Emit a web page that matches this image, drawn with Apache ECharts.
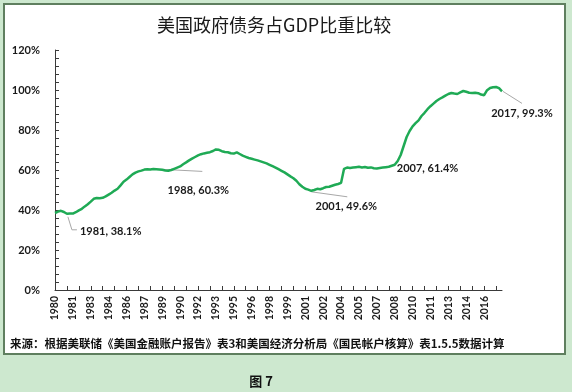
<!DOCTYPE html>
<html><head><meta charset="utf-8">
<script src="https://cdn.jsdelivr.net/npm/echarts@6/dist/echarts.min.js"></script>
<style>html,body{margin:0;padding:0;background:#cde8cf;} #c{width:572px;height:392px;}</style>
</head><body><div id="c"></div>
<script>
const titleText = '美国政府债务占GDP比重比较';
const sourceText = '来源：根据美联储《美国金融账户报告》表3和美国经济分析局《国民帐户核算》表1.5.5数据计算';
const figureText = '图 7';

// quarterly categories 1980Q1 .. 2017Q3
const years = [];
for (let y = 1980; y <= 2017; y++) years.push(y);
const categories = [];
years.forEach(y => { for (let q = 1; q <= 4; q++) { if (y === 2017 && q > 3) break; categories.push(y + 'Q' + q); } });

// US government debt / GDP (%)
const debtRatio = [
  38.5, 39.2, 39.6, 39.0, 38.1, 38.3, 38.2, 38.9, 39.8, 40.6,
  41.8, 42.9, 44.2, 45.6, 46.0, 45.9, 46.1, 46.8, 47.7, 48.6,
  49.7, 50.6, 52.3, 54.1, 55.2, 56.5, 57.8, 58.7, 59.3, 59.7,
  60.2, 60.4, 60.3, 60.5, 60.4, 60.3, 60.1, 59.8, 59.6, 60.0,
  60.6, 61.2, 61.8, 62.9, 63.8, 64.8, 65.7, 66.5, 67.3, 67.9,
  68.3, 68.6, 68.9, 69.5, 70.3, 70.1, 69.4, 69.0, 68.9, 68.4,
  68.2, 68.8, 68.0, 67.2, 66.6, 66.0, 65.6, 65.2, 64.8, 64.3,
  63.8, 63.3, 62.6, 61.9, 61.2, 60.4, 59.6, 58.8, 57.8, 56.8,
  55.9, 54.6, 52.9, 51.6, 50.6, 50.2, 49.6, 50.0, 50.6, 50.4,
  50.9, 51.5, 51.6, 52.1, 52.6, 53.0, 53.6, 60.6, 61.2, 61.0,
  61.2, 61.4, 61.6, 61.3, 61.5, 61.1, 61.3, 60.9, 60.8, 61.0,
  61.2, 61.4, 61.6, 62.1, 62.6, 64.5, 67.5, 72.0, 76.5, 79.5,
  81.8, 83.4, 84.8, 87.0, 88.6, 90.4, 91.9, 93.2, 94.5, 95.5,
  96.3, 97.2, 98.0, 98.5, 98.2, 98.0, 98.8, 99.5, 99.1, 98.6,
  98.5, 98.6, 98.4, 97.7, 97.4, 99.9, 101.0, 101.4, 101.5, 100.9,
  99.3
];

const yTicks = [0, 20, 40, 60, 80, 100, 120];

// annotations: category index + label text
const annotIndex = [4, 35, 86, 111, 150];
const annotText = ['1981, 38.1%', '1988, 60.3%', '2001, 49.6%', '2007, 61.4%', '2017, 99.3%'];

const chart = echarts.init(document.getElementById('c'), null, {renderer: 'canvas'});
const axisFont = 'Lato';
const lastLabelIndex = 144;
const option = {
  backgroundColor: '#cde8cf',
  animation: false,
  title: {
    text: titleText, left: 152, top: 11,
    textStyle: {fontFamily: 'Noto Sans CJK SC', fontSize: 18, fontWeight: 'normal', color: '#1a1a1a'}
  },
  grid: {left: 55, right: 70, top: 50, bottom: 102},
  xAxis: {
    type: 'category', data: categories, boundaryGap: false,
    axisLine: {lineStyle: {color: '#3a3a3a', width: 1}},
    axisTick: {show: true, inside: true, length: 4, interval: 3, lineStyle: {color: '#3a3a3a'}},
    axisLabel: {
      interval: (i) => i % 6 === 0 && i <= lastLabelIndex, rotate: 90, margin: 6,
      formatter: v => v.slice(0, 4),
      fontFamily: axisFont, fontWeight: 'bold', fontSize: 10.5, color: '#1a1a1a'
    },
    splitLine: {show: false}
  },
  yAxis: {
    type: 'value', min: yTicks[0], max: yTicks[yTicks.length - 1], interval: 20,
    axisLine: {show: true, lineStyle: {color: '#3a3a3a', width: 1}},
    axisTick: {show: true, inside: true, length: 4, lineStyle: {color: '#3a3a3a'}},
    minorTick: {show: true, splitNumber: 5, length: 4, lineStyle: {color: '#3a3a3a'}},
    axisLabel: {formatter: '{value}%', margin: 15, fontFamily: axisFont, fontWeight: 'bold', fontSize: 11, color: '#1a1a1a'},
    splitLine: {show: false}
  },
  series: [{
    type: 'line', data: debtRatio, showSymbol: false, symbol: 'none',
    lineStyle: {color: '#1faa55', width: 2.5}, z: 5
  }],
  graphic: [
    {id: 'frame', type: 'rect', z: -100, shape: {x: 4, y: 4, width: 561, height: 350},
     style: {fill: '#ffffff', stroke: '#5f7f5f', lineWidth: 2}},
    {id: 'src', type: 'text', z: 10, style: {text: sourceText, x: 10, y: 344, verticalAlign: 'middle',
     font: 'bold 11.5px "Noto Sans CJK SC"', fill: '#111'}},
    {id: 'fig', type: 'text', z: 10, style: {text: figureText, x: 261, y: 381, align: 'center', verticalAlign: 'middle',
     font: 'bold 13px "Noto Sans CJK SC"', fill: '#111'}}
  ]
};
chart.setOption(option);

// leader / label offsets (pixels, styling only) relative to each data point
const annotStyle = [
  {lead: [[1, 3], [5, 16], [10, 16]], tx: 13, ty: 18, align: 'left'},
  {lead: [[4, 0], [43, 2]], tx: 39, ty: 21, align: 'center'},
  {lead: [[0, 1], [36, 6]], tx: 35, ty: 16, align: 'center'},
  {lead: null, tx: 11, ty: 1, align: 'left'},
  {lead: [[1, 0], [20, 12]], tx: 20, ty: 22, align: 'center'}
];
const extra = [];
annotIndex.forEach((idx, k) => {
  const p = chart.convertToPixel({xAxisIndex: 0, yAxisIndex: 0}, [idx, debtRatio[idx]]);
  const s = annotStyle[k];
  if (s.lead) {
    extra.push({type: 'polyline', z: 3, shape: {points: s.lead.map(o => [p[0] + o[0], p[1] + o[1]])},
      style: {stroke: '#a8a8a8', lineWidth: 1, fill: null}});
  }
  extra.push({type: 'text', z: 10, style: {text: annotText[k], x: p[0] + s.tx, y: p[1] + s.ty,
    align: s.align, verticalAlign: 'middle', font: 'bold 11px Lato', fill: '#1a1a1a'}});
});
chart.setOption({graphic: option.graphic.concat(extra)});
</script>
</body></html>
